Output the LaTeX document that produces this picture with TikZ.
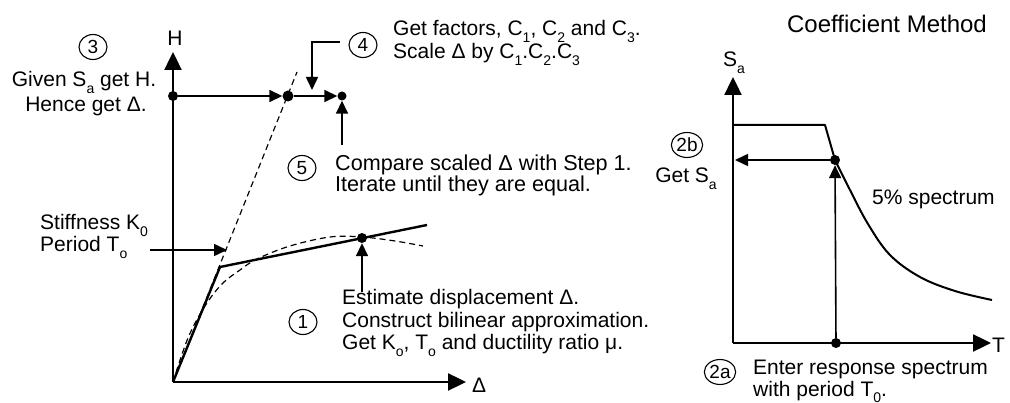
\documentclass[tikz,border=0pt]{standalone}
\usepackage{fontspec}
\setmainfont{Liberation Sans}
\usetikzlibrary{arrows.meta,shapes.geometric}
% lowered, smaller index for labels such as S_a, K_0
\newcommand\sbs[1]{\raisebox{-0.32em}{\fontsize{14}{14}\selectfont #1}}

\begin{document}
\begin{tikzpicture}[x=1pt,y=-1pt,
  txt/.style={font=\fontsize{21}{24}\selectfont, inner sep=0pt, anchor=base west},
  ctxt/.style={font=\fontsize{21}{24}\selectfont, inner sep=0pt, anchor=base},
  num/.style={draw, ellipse, line width=1.1pt, inner sep=0.5pt,
    minimum width=28pt, minimum height=25pt, font=\fontsize{19}{19}\selectfont},
  dot/.style={circle, fill, inner sep=0pt, minimum size=#1},
  dot/.default=10pt,
  axis/.style={line width=2.4pt, -{Triangle[length=18pt,width=17pt]}},
  arr/.style={line width=1.6pt, -{Triangle[length=13pt,width=12pt]}},
  solidcurve/.style={line width=2.4pt, line join=round},
  dashcurve/.style={line width=1.2pt, dash pattern=on 6pt off 4pt},
]
\useasboundingbox (0,0) rectangle (1010,403);

% ---------------- force-displacement plot ----------------
\coordinate (O) at (173,382);
\coordinate (Htop) at (173,52);
\coordinate (Dend) at (466,382);
\draw[axis] (O) -- (Htop);
\draw[axis] (O) -- (Dend);
\node[ctxt] (Hlab) at (175,46) {H};
\node[txt] (Dlab) at (472,393) {Δ};

% initial stiffness (dashed) and bilinear approximation
\coordinate (K) at (220,267);
\coordinate (Ktop) at (297,72);
\draw[dashcurve] (O) -- (Ktop);
\draw[dashcurve] plot[smooth, tension=0.6] coordinates
  {(173,382) (188,338) (205,306) (222,284) (240,270) (257,259)
   (290,246) (330,237) (362,237) (395,241) (423,246)};
\draw[solidcurve] (O) -- (K) -- (427,225);

% points on the capacity curve
\node[dot] (A) at (173,96) {};
\node[dot=11pt] (B) at (288,96) {};
\node[dot=9pt] (C) at (342,96) {};
\node[dot] (D) at (362,238) {};

\draw[arr] (A) -- (B);
\draw[arr] (B) -- (C);

% step 3
\node[num] (n3) at (93,47) {3};
\node[ctxt] (t3a) at (84,87) {Given S\sbs{a} get H.};
\node[ctxt] (t3b) at (86,112) {Hence get Δ.};

% step 4
\node[num] (n4) at (363,45) {4};
\node[txt] (t4a) at (393,36) {Get factors, C\sbs{1}, C\sbs{2} and C\sbs{3}.};
\node[txt] (t4b) at (393,59) {Scale Δ by C\sbs{1}.C\sbs{2}.C\sbs{3}};
\coordinate (c4) at (340,42);
\coordinate (c4tip) at (312,90);
\draw[arr] (c4) -| (c4tip);

% step 5
\node[num] (n5) at (302,168) {5};
\node[txt, font=\fontsize{21.6}{24}\selectfont] (t5a) at (335,171) {Compare scaled Δ with Step 1.};
\node[txt, font=\fontsize{21.6}{24}\selectfont] (t5b) at (335,192) {Iterate until they are equal.};
\coordinate (c5) at (342,145);
\draw[arr] (c5) -- (C);

% stiffness / period
\node[txt] (tka) at (40,230) {Stiffness K\sbs{0}};
\node[txt] (tkb) at (40,252) {Period T\sbs{o}};
\coordinate (ck) at (150,250);
\coordinate (cktip) at (227,250);
\draw[arr] (ck) -- (cktip);

% step 1
\node[num] (n1) at (303,322) {1};
\node[txt] (t1a) at (342,305) {Estimate displacement Δ.};
\node[txt] (t1b) at (342,328) {Construct bilinear approximation.};
\node[txt] (t1c) at (342,350) {Get K\sbs{o}, T\sbs{o} and ductility ratio μ.};
\coordinate (c1) at (362,292);
\draw[arr] (c1) -- (D);

% ---------------- response spectrum ----------------
\node[ctxt, font=\fontsize{24}{26}\selectfont] (title) at (887,33) {Coefficient Method};

\coordinate (R) at (733,343);
\coordinate (Stop) at (733,77);
\coordinate (Tend) at (991,343);
\draw[axis] (R) -- (Stop);
\draw[axis] (R) -- (Tend);
\node[txt] (Salab) at (723,67) {S\sbs{a}};
\node[txt] (Tlab) at (992,353) {T};

\draw[line width=2pt, line join=round] (733,125) -- (825,125) -- (835,160)
  -- plot[smooth, tension=0.6] coordinates
  {(835,160) (850,190) (868,224) (890,255) (920,277) (955,291) (992,300)};
\node[txt] (tsp) at (872,205) {5\% spectrum};

\node[dot] (E) at (835,160) {};
\node[dot] (F) at (836,343) {};
\coordinate (Eaxis) at (735,160);
\draw[arr] (F) -- (E);
\draw[arr] (E) -- (Eaxis);

% step 2b
\node[num] (n2b) at (687,145) {2b};
\node[ctxt] (t2b) at (686,183) {Get S\sbs{a}};

% step 2a
\node[num] (n2a) at (720,372) {2a};
\node[txt] (t2a1) at (753,375) {Enter response spectrum};
\node[txt] (t2a2) at (753,396) {with period T\sbs{0}.};
\end{tikzpicture}
\end{document}
